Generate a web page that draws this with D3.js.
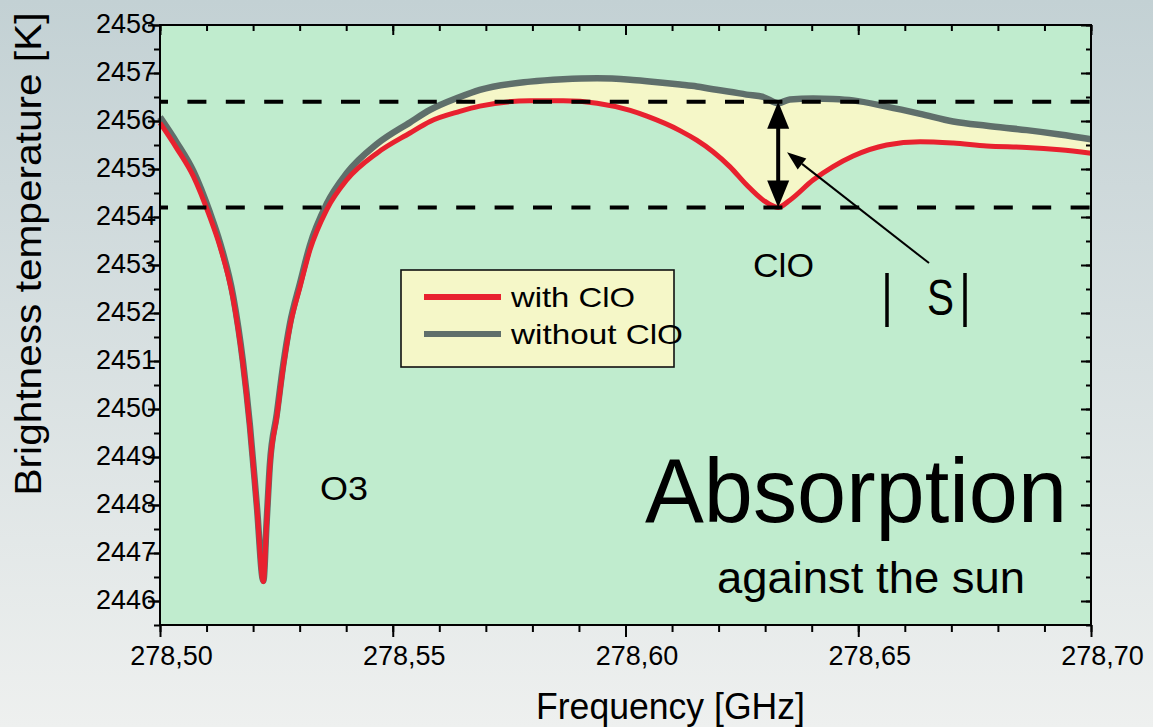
<!DOCTYPE html>
<html>
<head>
<meta charset="utf-8">
<script src="https://cdn.jsdelivr.net/npm/d3@7"></script>
<style>
  html, body { margin: 0; padding: 0; overflow: hidden; }
  body { width: 1153px; height: 727px; }
  svg { display: block; font-family: "Liberation Sans", Arial, sans-serif; }
</style>
</head>
<body>
<svg id="chart" width="1153" height="727"></svg>
<script>
// Frequency grid in GHz
const frequency = [
  278.5000, 278.5036, 278.5072, 278.5107, 278.5129, 278.5157, 278.5178, 278.5193,
  278.5208, 278.5222, 278.5229, 278.5236, 278.5251, 278.5265,
  278.5279, 278.5301, 278.5322, 278.5358, 278.5401, 278.5466, 278.5537, 278.5580,
  278.5644, 278.5687, 278.5795, 278.5866, 278.5939, 278.6010, 278.6046, 278.6117,
  278.6153, 278.6188, 278.6224, 278.6260, 278.6296, 278.6328, 278.6353, 278.6403,
  278.6446, 278.6489, 278.6561, 278.6633, 278.6704, 278.6776, 278.6862, 278.6933,
  278.7000
];

// Brightness temperature [K] with the ClO line
const withClO = [
  2455.96, 2455.43, 2454.84, 2454.00, 2453.38, 2452.30, 2450.95, 2449.63,
  2447.96, 2446.40, 2447.60, 2448.79, 2449.84, 2450.88,
  2451.71, 2452.55, 2453.31, 2454.15, 2454.77, 2455.33, 2455.75, 2455.99,
  2456.20, 2456.31, 2456.42, 2456.42, 2456.37, 2456.22, 2456.10, 2455.80,
  2455.60, 2455.36, 2455.05, 2454.67, 2454.35, 2454.20, 2454.35, 2454.77,
  2455.05, 2455.27, 2455.50, 2455.57, 2455.54, 2455.48, 2455.45, 2455.40,
  2455.33
];

// Brightness temperature [K] without the ClO line
const withoutClO = [
  2456.08, 2455.55, 2454.95, 2454.10, 2453.46, 2452.36, 2451.00, 2449.67,
  2447.99, 2446.42, 2447.63, 2448.84, 2449.90, 2450.94,
  2451.77, 2452.63, 2453.41, 2454.27, 2454.91, 2455.52, 2455.97, 2456.23,
  2456.50, 2456.65, 2456.82, 2456.87, 2456.89, 2456.86, 2456.83, 2456.76,
  2456.72, 2456.66, 2456.61, 2456.55, 2456.50, 2456.37, 2456.45, 2456.47,
  2456.46, 2456.43, 2456.30, 2456.15, 2455.99, 2455.90, 2455.81, 2455.72,
  2455.62
];

// Reference levels marking the line depth |S|
const levels = [2456.4, 2454.2];
const clOCentre = 278.6328;

// Axis ticks
const xMajorTicks = [278.50, 278.55, 278.60, 278.65, 278.70];
const xMinorTicks = d3.range(0, 21).map(i => +(278.50 + i * 0.01).toFixed(2));
const yMajorTicks = d3.range(2446, 2459);
const yMinorTicks = d3.range(0, 26).map(i => 2445.5 + i * 0.5);

const seriesNames = ["with ClO", "without ClO"];
const seriesColors = ["#e8212f", "#5f6f6b"];

const W = 1153, H = 727;
const margin = { left: 160, right: W - 1091, top: 25, bottom: H - 625 };

const svg = d3.select("#chart");
const defs = svg.append("defs");
const bg = defs.append("linearGradient").attr("id", "bg").attr("x1", 0).attr("y1", 0).attr("x2", 0).attr("y2", 1);
bg.append("stop").attr("offset", "0%").attr("stop-color", "#c3d1d4");
bg.append("stop").attr("offset", "100%").attr("stop-color", "#eef0ef");
svg.append("rect").attr("width", W).attr("height", H).attr("fill", "url(#bg)");

const x = d3.scaleLinear().domain([278.5, 278.7]).range([margin.left, W - margin.right]);
const y = d3.scaleLinear().domain([2445.5, 2458]).range([H - margin.bottom, margin.top]);

// plot area
svg.append("rect")
  .attr("x", x(278.5)).attr("y", y(2458))
  .attr("width", x(278.7) - x(278.5)).attr("height", y(2445.5) - y(2458))
  .attr("fill", "#c0ecce");

const rows = frequency.map((f, i) => ({ f, a: withClO[i], b: withoutClO[i] }));

// difference between the two spectra
svg.append("path")
  .datum(rows)
  .attr("fill", "#f5f7c8")
  .attr("d", d3.area().curve(d3.curveMonotoneX)
    .x(d => x(d.f)).y0(d => y(d.a)).y1(d => y(d.b)));

// spectra
const line = key => d3.line().curve(d3.curveMonotoneX).x(d => x(d.f)).y(d => y(d[key]));
svg.append("path").datum(rows)
  .attr("fill", "none").attr("stroke", seriesColors[1]).attr("stroke-width", 6.5)
  .attr("stroke-linejoin", "round").attr("d", line("b"));
svg.append("path").datum(rows)
  .attr("fill", "none").attr("stroke", seriesColors[0]).attr("stroke-width", 5)
  .attr("stroke-linejoin", "round").attr("d", line("a"));

// dashed reference levels
svg.selectAll("line.level").data(levels).join("line")
  .attr("class", "level")
  .attr("x1", x(278.5)).attr("x2", x(278.7))
  .attr("y1", d => y(d)).attr("y2", d => y(d))
  .attr("stroke", "#000").attr("stroke-width", 4)
  .attr("stroke-dasharray", "19,19.4").attr("stroke-dashoffset", 11);

// double-headed arrow between the levels
const ax = x(clOCentre), aTop = y(levels[0]), aBot = y(levels[1]);
const headL = 27, headW = 11;
svg.append("line")
  .attr("x1", ax).attr("x2", ax).attr("y1", aTop + headL - 2).attr("y2", aBot - headL + 2)
  .attr("stroke", "#000").attr("stroke-width", 4);
svg.append("path").attr("fill", "#000")
  .attr("d", `M${ax},${aTop} L${ax + headW},${aTop + headL} L${ax - headW},${aTop + headL} Z`);
svg.append("path").attr("fill", "#000")
  .attr("d", `M${ax},${aBot} L${ax + headW},${aBot - headL} L${ax - headW},${aBot - headL} Z`);

// pointer from the |S| label
const tail = [x(278.6652), y(2453.04)], tip = [x(278.6347), y(2455.35)];
const ang = Math.atan2(tip[1] - tail[1], tip[0] - tail[0]);
const pl = 19, pw = 7;
const bx = tip[0] - pl * Math.cos(ang), by = tip[1] - pl * Math.sin(ang);
svg.append("line")
  .attr("x1", tail[0]).attr("y1", tail[1]).attr("x2", bx).attr("y2", by)
  .attr("stroke", "#000").attr("stroke-width", 2);
svg.append("path").attr("fill", "#000")
  .attr("d", `M${tip[0]},${tip[1]} L${bx + pw * Math.sin(ang)},${by - pw * Math.cos(ang)} L${bx - pw * Math.sin(ang)},${by + pw * Math.cos(ang)} Z`);

// annotations
const label = (t, px, py, size, len) => {
  const el = svg.append("text").attr("x", px).attr("y", py)
    .attr("font-size", size).attr("fill", "#000").text(t);
  if (len) el.attr("textLength", len).attr("lengthAdjust", "spacingAndGlyphs");
  return el;
};
label("ClO", 753, 277, 34, 61);
label("O3", 320, 500, 33, 48);
label("Absorption", 645, 522, 90, 422);
label("against the sun", 717, 593, 44, 308);
label("S", 927, 315, 50, 27);
[887, 965].forEach(bxp => {
  svg.append("line").attr("x1", bxp).attr("x2", bxp).attr("y1", 273).attr("y2", 327)
    .attr("stroke", "#000").attr("stroke-width", 3.5);
});

// legend
const lg = svg.append("g");
lg.append("rect").attr("x", 401).attr("y", 270).attr("width", 273).attr("height", 97)
  .attr("fill", "#f5f7c8").attr("stroke", "#111").attr("stroke-width", 1.6);
const legendLen = [124, 172];
seriesNames.forEach((name, i) => {
  const ly = 297 + i * 37;
  lg.append("line").attr("x1", 424).attr("x2", 501).attr("y1", ly).attr("y2", ly)
    .attr("stroke", seriesColors[i]).attr("stroke-width", 6);
  lg.append("text").attr("x", 511).attr("y", ly + 10).attr("font-size", 28)
    .attr("textLength", legendLen[i]).attr("lengthAdjust", "spacingAndGlyphs").text(name);
});

// axes
const styleAxis = g => {
  g.select(".domain").remove();
  g.selectAll(".tick line").attr("stroke", "#000").attr("stroke-width", 2);
  g.selectAll(".tick text").attr("fill", "#000").attr("font-family", "Liberation Sans, Arial, sans-serif");
};
const bottom = H - margin.bottom, right = W - margin.right;

svg.append("g").attr("transform", `translate(0,${bottom})`)
  .call(d3.axisBottom(x).tickValues(xMinorTicks).tickSize(7).tickFormat(""))
  .call(styleAxis);
svg.append("g").attr("transform", `translate(0,${bottom})`)
  .call(d3.axisBottom(x).tickValues(xMajorTicks).tickSize(12).tickPadding(9)
    .tickFormat(d => d.toFixed(2).replace(".", ",")))
  .call(styleAxis)
  .call(g => g.selectAll(".tick text").attr("font-size", 27).attr("dx", 11));

svg.append("g").attr("transform", `translate(0,${margin.top})`)
  .call(d3.axisTop(x).tickValues(xMinorTicks).tickSize(-6).tickFormat(""))
  .call(styleAxis);
svg.append("g").attr("transform", `translate(0,${margin.top})`)
  .call(d3.axisTop(x).tickValues(xMajorTicks).tickSize(-10).tickFormat(""))
  .call(styleAxis);

svg.append("g").attr("transform", `translate(${margin.left},0)`)
  .call(d3.axisLeft(y).tickValues(yMinorTicks).tickSize(6).tickFormat(""))
  .call(styleAxis);
svg.append("g").attr("transform", `translate(${margin.left},0)`)
  .call(d3.axisLeft(y).tickValues(yMajorTicks).tickSize(12).tickPadding(-8).tickFormat(d3.format("d")))
  .call(styleAxis)
  .call(g => g.selectAll(".tick text").attr("font-size", 27).attr("dy", "0.26em"));

svg.append("g").attr("transform", `translate(${right},0)`)
  .call(d3.axisRight(y).tickValues(yMinorTicks).tickSize(-5).tickFormat(""))
  .call(styleAxis);
svg.append("g").attr("transform", `translate(${right},0)`)
  .call(d3.axisRight(y).tickValues(yMajorTicks).tickSize(-10).tickFormat(""))
  .call(styleAxis);

// frame
svg.append("rect")
  .attr("x", margin.left).attr("y", margin.top)
  .attr("width", right - margin.left).attr("height", bottom - margin.top)
  .attr("fill", "none").attr("stroke", "#000").attr("stroke-width", 2);

// axis titles
svg.append("text").attr("x", 536).attr("y", 719).attr("font-size", 36)
  .attr("textLength", 269).attr("lengthAdjust", "spacingAndGlyphs")
  .text("Frequency [GHz]");
svg.append("text")
  .attr("transform", "translate(41,254) rotate(-90)")
  .attr("text-anchor", "middle").attr("font-size", 37)
  .attr("textLength", 483).attr("lengthAdjust", "spacingAndGlyphs")
  .text("Brightness temperature [K]");
</script>
</body>
</html>
